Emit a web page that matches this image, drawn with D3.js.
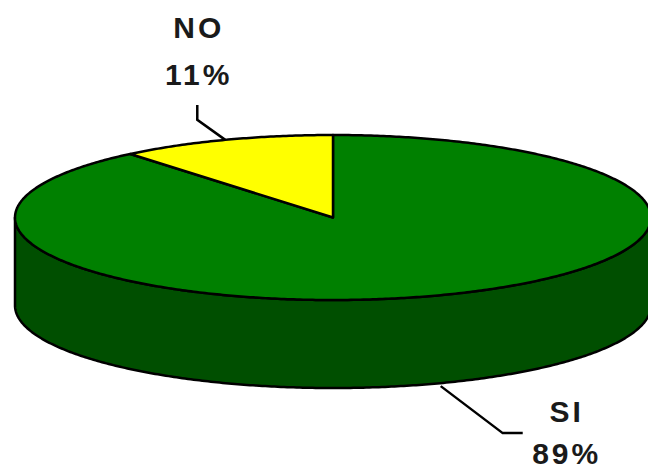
<!DOCTYPE html>
<html>
<head>
<meta charset="utf-8">
<script src="https://cdn.jsdelivr.net/npm/d3@7"></script>
<style>
  body { margin: 0; background: #fff; }
  svg { display: block; }
  .lbl { font-family: "Liberation Sans", Arial, sans-serif; font-weight: bold; fill: #1a1a1a; font-size: 30px; letter-spacing: 3px; }
</style>
</head>
<body>
<div class="canvas"></div>
<script>
// data
const labels = ['SI', 'NO'];
const values = [89, 11];
const percents = ['89%', '11%'];

const width = 648, height = 471;
const cx = 333, cy = 217.5, rx = 318, ry = 82.5, depth = 88;

const colors = { SI: '#008000', NO: '#ffff00' };
const sideColor = '#004f00';

const svg = d3.select('.canvas')
  .append('svg')
    .attr('width', width)
    .attr('height', height);

// projected ellipse point for a pie angle (clockwise from 12 o'clock)
const pt = (a, dy = 0) => [cx + rx * Math.sin(a), cy - ry * Math.cos(a) + dy];

const arcPoints = (a0, a1, dy = 0) => {
  const n = Math.max(2, Math.ceil(Math.abs(a1 - a0) / 0.01));
  return d3.range(n + 1).map(i => pt(a0 + (a1 - a0) * i / n, dy));
};

const line = d3.line();

const pie = d3.pie().sort(null).value(d => d.value);
const data = pie(labels.map((l, i) => ({ label: l, value: values[i], pct: percents[i] })));

// side wall (front half only)
data.forEach(d => {
  const a0 = Math.max(d.startAngle, Math.PI / 2);
  const a1 = Math.min(d.endAngle, 3 * Math.PI / 2);
  if (a1 <= a0) return;
  const pts = arcPoints(a0, a1).concat(arcPoints(a1, a0, depth));
  svg.append('path')
    .attr('d', line(pts) + 'Z')
    .attr('fill', d.data.label === 'SI' ? sideColor : '#b3b300')
    .attr('stroke', '#000')
    .attr('stroke-width', 2.5)
    .attr('stroke-linejoin', 'round');
});

// top slices
svg.selectAll('.slice')
  .data(data)
  .enter()
  .append('path')
    .attr('class', 'slice')
    .attr('d', d => line([[cx, cy]].concat(arcPoints(d.startAngle, d.endAngle))) + 'Z')
    .attr('fill', d => colors[d.data.label])
    .attr('stroke', '#000')
    .attr('stroke-width', 2.5)
    .attr('stroke-linejoin', 'round');

// leader lines + labels
const leaders = {
  NO: { top: true, elbow: [-28, -20], end: [0, -15] },
  SI: { top: false, elbow: [62, 47], end: [20, 0] }
};

data.forEach(d => {
  const mid = (d.startAngle + d.endAngle) / 2;
  const L = leaders[d.data.label];
  const a = L.top ? pt(mid) : pt(mid, depth + 3);
  const e = [a[0] + L.elbow[0], a[1] + L.elbow[1]];
  const f = [e[0] + L.end[0], e[1] + L.end[1]];
  svg.append('path')
    .attr('d', line([a, e, f]))
    .attr('fill', 'none')
    .attr('stroke', '#000')
    .attr('stroke-width', 2.5);

  let tx, y1, y2;
  if (L.top) { tx = f[0] + 1.5; y1 = f[1] - 67; y2 = f[1] - 20; }
  else { tx = f[0] + 44; y1 = f[1] - 11; y2 = f[1] + 31; }

  svg.append('text')
    .attr('class', 'lbl')
    .attr('x', tx).attr('y', y1)
    .attr('text-anchor', 'middle')
    .text(d.data.label);
  svg.append('text')
    .attr('class', 'lbl')
    .attr('x', tx).attr('y', y2)
    .attr('text-anchor', 'middle')
    .text(d.data.pct);
});
</script>
</body>
</html>
